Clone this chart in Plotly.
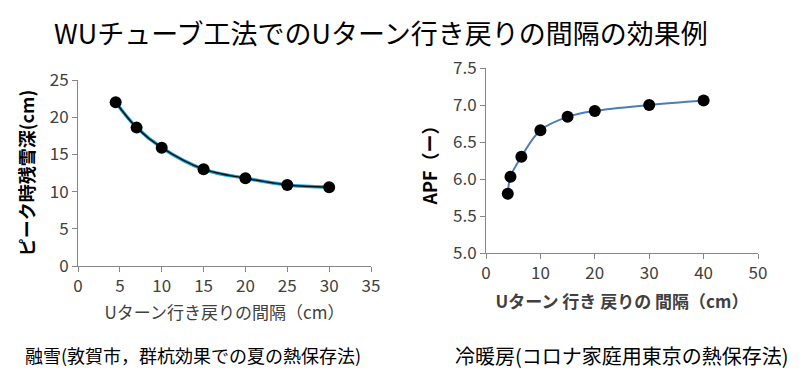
import plotly.graph_objects as go

# Left chart: snow melting
snow_x = [4.5, 7, 10, 15, 20, 25, 30]
snow_y = [22.0, 18.6, 15.9, 13.0, 11.8, 10.9, 10.6]

# Right chart: APF
apf_x = [4, 4.5, 6.5, 10, 15, 20, 30, 40]
apf_y = [5.8, 6.03, 6.3, 6.66, 6.84, 6.92, 7.0, 7.06]

title_text = "WUチューブ工法でのUターン行き戻りの間隔の効果例"
left_xtitle = "Uターン行き戻りの間隔（cm）"
left_ytitle = "ピーク時残雪深(cm)"
right_xtitle = "Uターン 行き 戻りの 間隔（cm）"
right_ytitle = "APF（ー）"
left_caption = "融雪(敦賀市，群杭効果での夏の熱保存法)"
right_caption = "冷暖房(コロナ家庭用東京の熱保存法)"

FONT = "Noto Sans CJK JP"
# page body has an 8px margin; size the figure to fill the rest of the window
OFF = 8
W, H = 808 - OFF, 389 - OFF

fig = go.Figure()
fig.add_trace(go.Scatter(x=snow_x, y=snow_y, mode="lines", line=dict(color="#1ca8dd", width=3.5, shape="spline"),
                         xaxis="x", yaxis="y", showlegend=False, hoverinfo="skip"))
fig.add_trace(go.Scatter(x=snow_x, y=snow_y, mode="lines+markers", line=dict(color="#101010", width=1.5, shape="spline"),
                         marker=dict(color="black", size=12), xaxis="x", yaxis="y", showlegend=False))
fig.add_trace(go.Scatter(x=apf_x, y=apf_y, mode="lines+markers", line=dict(color="#4a7ebb", width=2, shape="spline"),
                         marker=dict(color="black", size=12), xaxis="x2", yaxis="y2", showlegend=False))

def px_x(p):
    return (p - OFF) / W

def px_y(p):
    return (H - (p - OFF)) / H

axis_common = dict(showgrid=False, zeroline=False, showline=True, linecolor="#868686", linewidth=1,
                   ticks="outside", ticklen=5, tickcolor="#868686", automargin=False,
                   tickfont=dict(family=FONT, size=17, color="#404040"))

fig.update_layout(
    width=W, height=H, margin=dict(l=0, r=0, t=0, b=0),
    paper_bgcolor="white", plot_bgcolor="white",
    font=dict(family=FONT),
    xaxis=dict(domain=[px_x(78), px_x(371)], range=[0, 35], dtick=5, anchor="y",
               title=dict(text=left_xtitle, font=dict(size=17, color="#404040"), standoff=10), **axis_common),
    yaxis=dict(domain=[px_y(266), px_y(80)], range=[0, 25], dtick=5, anchor="x",
               title=dict(text="<b>" + left_ytitle + "</b>", font=dict(size=18, color="black"), standoff=10), **axis_common),
    xaxis2=dict(domain=[px_x(486), px_x(758)], range=[0, 50], dtick=10, anchor="y2",
                title=dict(text="<b>" + right_xtitle + "</b>", font=dict(size=17, color="#404040"), standoff=12), **axis_common),
    yaxis2=dict(domain=[px_y(253), px_y(68)], range=[5.0, 7.5], dtick=0.5, tickformat=".1f", anchor="x2",
                title=dict(text="<b>" + right_ytitle + "</b>", font=dict(size=18, color="black"), standoff=10), **axis_common),
    annotations=[
        dict(text=title_text, x=px_x(381), y=px_y(32), xref="paper", yref="paper", showarrow=False,
             xanchor="center", yanchor="middle", font=dict(family=FONT, size=27, color="black")),
        dict(text=left_caption, x=px_x(23), y=px_y(355), xref="paper", yref="paper", showarrow=False,
             xanchor="left", yanchor="middle", font=dict(family=FONT, size=18, color="black")),
        dict(text=right_caption, x=px_x(453), y=px_y(355), xref="paper", yref="paper", showarrow=False,
             xanchor="left", yanchor="middle", font=dict(family=FONT, size=20, color="black")),
    ],
)

fig.write_html("out.html")
